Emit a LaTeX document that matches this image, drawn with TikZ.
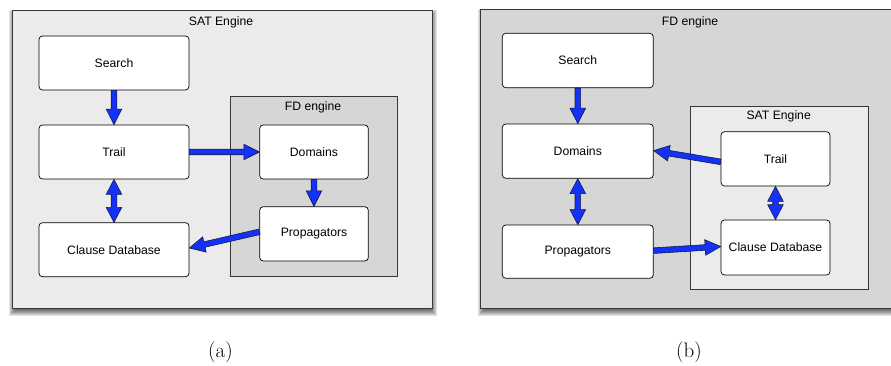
\documentclass[tikz,border=0pt]{standalone}
\usepackage{fontspec}
\newfontfamily\sansf{Liberation Sans}
\usetikzlibrary{calc}
\definecolor{panlight}{RGB}{235,235,235}
\definecolor{pandark}{RGB}{214,214,214}
\definecolor{arrblue}{RGB}{20,50,245}
\definecolor{arredge}{RGB}{25,25,70}
\definecolor{edgegray}{RGB}{55,55,55}
\tikzset{
  panel/.style={draw=edgegray, line width=0.9pt, inner sep=0pt},
  box/.style={draw=black, line width=0.7pt, rounded corners=3.5pt, fill=white,
    font=\sansf\fontsize{12.2}{14}\selectfont, inner sep=0pt},
  ptitle/.style={font=\sansf\fontsize{12.2}{14}\selectfont, inner sep=0pt},
  fat/.style={fill=arrblue, draw=arredge, line width=0.6pt, line join=miter},
  capt/.style={font=\fontsize{21}{24}\selectfont, inner sep=0pt}
}
% name, x1, y1, x2, y2, style, text
\newcommand\mkrect[7]{%
  \node[#6, minimum width={(#4-#2)*1pt}, minimum height={(#5-#3)*1pt}]
    (#1) at ({(#2+#4)/2},{(#3+#5)/2}) {#7};}
\newcommand\softshadow[4]{%
  \foreach \e in {4,3,2,1,0,-1,-2}{%
    \fill[black, opacity=0.11] ({#1+1-\e},{#2+3.5-\e}) rectangle ({#3+1+\e},{#4+3.5+\e});}}
\newcommand\fatarrow[2]{%
  \coordinate (fa-s) at (#1); \coordinate (fa-e) at (#2);
  \coordinate (fa-c) at ($(fa-e)!15.5pt!(fa-s)$);
  \filldraw[fat] ($(fa-s)!2.8pt!-90:(fa-e)$) -- ($(fa-c)!2.8pt!-90:(fa-e)$)
    -- ($(fa-c)!7.8pt!-90:(fa-e)$) -- (fa-e) -- ($(fa-c)!7.8pt!90:(fa-e)$)
    -- ($(fa-c)!2.8pt!90:(fa-e)$) -- ($(fa-s)!2.8pt!90:(fa-e)$) -- cycle;}
\newcommand\dblarrow[2]{%
  \coordinate (fa-s) at (#1); \coordinate (fa-e) at (#2);
  \coordinate (fa-c) at ($(fa-e)!15pt!(fa-s)$);
  \coordinate (fa-d) at ($(fa-s)!15pt!(fa-e)$);
  \filldraw[fat] (fa-s) -- ($(fa-d)!7.8pt!-90:(fa-e)$) -- ($(fa-d)!2.8pt!-90:(fa-e)$)
    -- ($(fa-c)!2.8pt!-90:(fa-e)$) -- ($(fa-c)!7.8pt!-90:(fa-e)$) -- (fa-e)
    -- ($(fa-c)!7.8pt!90:(fa-e)$) -- ($(fa-c)!2.8pt!90:(fa-e)$)
    -- ($(fa-d)!2.8pt!90:(fa-e)$) -- ($(fa-d)!7.8pt!90:(fa-e)$) -- cycle;}
\begin{document}
\begin{tikzpicture}[x=1pt, y=-1pt]
\useasboundingbox (0,0) rectangle (891,366);
% ---------- panel (a)
\softshadow{12.3}{10.7}{432}{308}
\mkrect{panA}{12.3}{10.7}{432}{308}{panel, fill=panlight}{}
\node[ptitle] (titA) at (221,22) {SAT Engine};
\mkrect{fdA}{230.3}{96.7}{397.7}{276.7}{panel, fill=pandark, line width=0.8pt}{}
\node[ptitle] (titFDA) at (313,107.7) {FD engine};
\mkrect{searchA}{39}{36}{189}{90}{box}{Search}
\mkrect{trailA}{39}{125}{189}{179}{box}{Trail}
\mkrect{clauseA}{39}{222.7}{189}{276.7}{box}{Clause Database}
\mkrect{domA}{259.7}{125}{368.3}{179}{box}{Domains}
\mkrect{propA}{259.7}{206.7}{368.3}{261}{box}{Propagators}
\fatarrow{searchA.south}{trailA.north}
\fatarrow{trailA.east}{domA.west}
\dblarrow{trailA.south}{clauseA.north}
\fatarrow{domA.south}{propA.north}
\fatarrow{[yshift=2pt]propA.west}{[yshift=1.7pt]clauseA.east}
\node[capt] (capA) at (220.5,352.5) {(a)};
% ---------- panel (b)
\softshadow{480.7}{9.5}{900}{308.3}
\mkrect{panB}{480.7}{9.5}{900}{308.3}{panel, fill=pandark}{}
\node[ptitle] (titB) at (690,22) {FD engine};
\mkrect{satB}{690.3}{106}{868.7}{289.3}{panel, fill=panlight, line width=0.8pt}{}
\node[ptitle] (titSATB) at (778.7,116.7) {SAT Engine};
\mkrect{searchB}{502.3}{33.3}{653.3}{87.7}{box}{Search}
\mkrect{domB}{502.3}{124}{653.3}{178.3}{box}{Domains}
\mkrect{propB}{502.3}{225}{653.3}{278.3}{box}{Propagators}
\mkrect{trailB}{721}{131.7}{830}{186}{box}{Trail}
\mkrect{clauseB}{721}{220}{830}{275}{box}{Clause Database}
\fatarrow{searchB.south}{domB.north}
\dblarrow{domB.south}{propB.north}
\fatarrow{[yshift=-3pt]trailB.west}{[yshift=0.5pt]domB.east}
\dblarrow{trailB.south}{clauseB.north}
\fatarrow{[yshift=1pt]propB.east}{[yshift=1pt]clauseB.west}
\node[capt] (capB) at (689,352.5) {(b)};
\end{tikzpicture}
\end{document}
